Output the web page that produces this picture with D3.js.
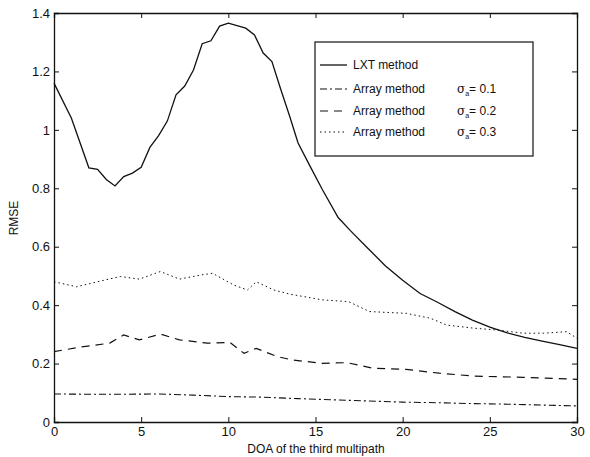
<!DOCTYPE html>
<html>
<head>
<meta charset="utf-8">
<script src="https://cdn.jsdelivr.net/npm/d3@7"></script>
<style>
  body { margin: 0; background: #fff; }
  svg text { font-family: "Liberation Sans", Arial, sans-serif; fill: #111; }
</style>
</head>
<body>
<div id="chart"></div>
<script>
// DOA values (x) and RMSE readings for each curve
var lxtDoa = [0, 1, 2, 2.5, 3, 3.5, 4, 4.5, 5, 5.5, 6, 6.5, 7, 7.5, 8, 8.5, 9, 9.5, 10, 11, 11.5, 12, 12.5, 13, 13.5, 14, 14.7, 15.4, 16.3, 17, 18, 19, 20, 21, 22, 23, 24, 25, 26, 27, 28, 29, 30];
var lxtRmse = [1.16, 1.04, 0.87, 0.865, 0.83, 0.808, 0.84, 0.852, 0.872, 0.94, 0.98, 1.03, 1.12, 1.15, 1.205, 1.295, 1.305, 1.355, 1.365, 1.348, 1.325, 1.263, 1.234, 1.14, 1.05, 0.955, 0.874, 0.795, 0.7, 0.655, 0.595, 0.535, 0.485, 0.44, 0.41, 0.378, 0.349, 0.325, 0.305, 0.29, 0.277, 0.265, 0.252];

var s1Doa = [0, 2, 4, 6, 8, 10, 12, 14, 16, 18, 20, 22, 24, 26, 28, 30];
var s1Rmse = [0.096, 0.095, 0.095, 0.096, 0.092, 0.087, 0.085, 0.08, 0.076, 0.072, 0.068, 0.066, 0.063, 0.061, 0.058, 0.055];

var s2Doa = [0, 1.7, 3.2, 4, 4.9, 6.1, 7.2, 8.8, 10.1, 10.9, 11.6, 12.8, 13.7, 15.4, 16.8, 18.3, 20.2, 22.1, 24.1, 26.9, 30];
var s2Rmse = [0.241, 0.258, 0.27, 0.298, 0.281, 0.301, 0.281, 0.27, 0.272, 0.235, 0.252, 0.224, 0.212, 0.201, 0.203, 0.184, 0.18, 0.167, 0.157, 0.153, 0.146];

var s3Doa = [0, 1.3, 2.5, 3.8, 4.9, 6.1, 7.2, 8.4, 9.1, 10.3, 11.1, 11.6, 12.6, 13.5, 15.4, 16.9, 18.1, 20.2, 21.6, 22.5, 24.1, 25.4, 26.9, 28.1, 29.4, 30];
var s3Rmse = [0.48, 0.463, 0.48, 0.498, 0.489, 0.515, 0.489, 0.503, 0.509, 0.469, 0.452, 0.48, 0.452, 0.438, 0.418, 0.412, 0.378, 0.372, 0.355, 0.332, 0.321, 0.315, 0.304, 0.304, 0.309, 0.287];

var xTicks = [0, 5, 10, 15, 20, 25, 30];
var yTicks = [0, 0.2, 0.4, 0.6, 0.8, 1, 1.2, 1.4];

var legendLabels = ["LXT method", "Array method", "Array method", "Array method"];
var legendSigma = ["", "0.1", "0.2", "0.3"];
var dashes = [null, "7,3,2,3", "8,6", "1.5,3"];

var width = 590, height = 457;
var margin = {top: 13, right: 13, bottom: 35, left: 54};
var w = width - margin.left - margin.right,
    h = height - margin.top - margin.bottom;

var svg = d3.select("#chart").append("svg")
    .attr("width", width)
    .attr("height", height);

var g = svg.append("g")
    .attr("transform", "translate(" + margin.left + "," + margin.top + ")");

var x = d3.scaleLinear().domain([0, 30]).range([0, w]);
var y = d3.scaleLinear().domain([0, 1.4]).range([h, 0]);

// axes: labelled bottom/left, plain inward ticks on top/right
var fmt = function(d) { return d3.format("")(+d.toFixed(1)); };
var xAx = g.append("g").attr("transform", "translate(0," + h + ")")
    .call(d3.axisBottom(x).tickValues(xTicks).tickSize(-5).tickPadding(5).tickFormat(fmt));
var yAx = g.append("g")
    .call(d3.axisLeft(y).tickValues(yTicks).tickSize(-5).tickPadding(4).tickFormat(fmt));
var xTop = g.append("g")
    .call(d3.axisTop(x).tickValues(xTicks).tickSize(-5).tickFormat(""));
var yRight = g.append("g").attr("transform", "translate(" + w + ",0)")
    .call(d3.axisRight(y).tickValues(yTicks).tickSize(-5).tickFormat(""));

[xAx, yAx, xTop, yRight].forEach(function(a) {
  a.select(".domain").attr("stroke", "#111").attr("stroke-width", 1.3);
  a.selectAll(".tick line").attr("stroke", "#111").attr("stroke-width", 1);
  a.selectAll(".tick text").style("font-size", "13px").style("font-family", "Liberation Sans, Arial, sans-serif").attr("fill", "#111");
});

// series
var series = [
  {doa: lxtDoa, val: lxtRmse, dash: dashes[0], w: 1.3},
  {doa: s1Doa, val: s1Rmse, dash: dashes[1], w: 1.1},
  {doa: s2Doa, val: s2Rmse, dash: dashes[2], w: 1.2},
  {doa: s3Doa, val: s3Rmse, dash: dashes[3], w: 1}
];

var line = d3.line()
    .x(function(d) { return x(d[0]); })
    .y(function(d) { return y(d[1]); });

series.forEach(function(s) {
  g.append("path")
    .datum(d3.zip(s.doa, s.val))
    .attr("d", line)
    .attr("fill", "none")
    .attr("stroke", "#111")
    .attr("stroke-width", s.w)
    .attr("stroke-dasharray", s.dash);
});

// axis titles
svg.append("text")
  .attr("x", 316).attr("y", 453)
  .attr("text-anchor", "middle")
  .style("font-size", "12px")
  .text("DOA of the third multipath");

svg.append("text")
  .attr("transform", "translate(18,218) rotate(-90)")
  .attr("text-anchor", "middle")
  .style("font-size", "12px")
  .text("RMSE");

// legend
var leg = svg.append("g").attr("transform", "translate(315,42)");
leg.append("rect")
  .attr("width", 218).attr("height", 114)
  .attr("fill", "#fff").attr("stroke", "#111").attr("stroke-width", 1.2);

var rowY = [23, 47, 69, 90];
legendLabels.forEach(function(lab, i) {
  leg.append("line")
    .attr("x1", 5).attr("x2", 32)
    .attr("y1", rowY[i]).attr("y2", rowY[i])
    .attr("stroke", "#111").attr("stroke-width", series[i].w)
    .attr("stroke-dasharray", dashes[i]);
  leg.append("text")
    .attr("x", 38).attr("y", rowY[i] + 4)
    .style("font-size", "12px")
    .text(lab);
  if (legendSigma[i]) {
    var t = leg.append("text")
      .attr("x", 142).attr("y", rowY[i] + 4)
      .style("font-size", "12px");
    t.append("tspan").style("font-family", "DejaVu Serif, serif").text("σ");
    t.append("tspan").attr("dy", 3).style("font-size", "7px").text("a");
    t.append("tspan").attr("dy", -3).text("= " + legendSigma[i]);
  }
});
</script>
</body>
</html>
